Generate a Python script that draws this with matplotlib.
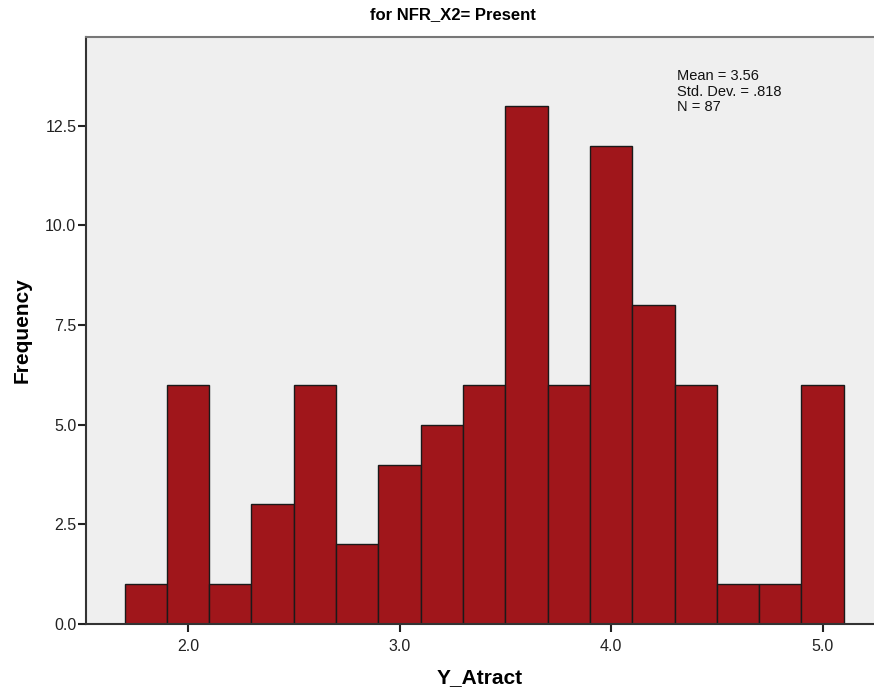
import numpy as np
import matplotlib
matplotlib.use("Agg")
import matplotlib.pyplot as plt

plt.rcParams['font.family'] = ['Liberation Sans', 'DejaVu Sans']

# histogram bins (width 0.2) and counts
bin_left = [1.7, 1.9, 2.1, 2.3, 2.5, 2.7, 2.9, 3.1, 3.3, 3.5, 3.7, 3.9, 4.1, 4.3, 4.5, 4.7, 4.9]
counts = [1, 6, 1, 3, 6, 2, 4, 5, 6, 13, 6, 12, 8, 6, 1, 1, 6]
bin_width = 0.2

y_ticks = [0.0, 2.5, 5.0, 7.5, 10.0, 12.5]
x_ticks = [2.0, 3.0, 4.0, 5.0]
stats_text = "Mean = 3.56\nStd. Dev. = .818\nN = 87"

fig = plt.figure(figsize=(8.74, 6.95), dpi=100)
ax = fig.add_axes([86/874, 71/695, 1 - 86/874, (624-37)/695])
ax.set_facecolor('#efefef')

ax.bar(bin_left, counts, width=bin_width, align='edge',
       color='#a0161b', edgecolor='#1a1a1a', linewidth=1.0)

ax.set_xlim(1.518, 5.243)
ax.set_ylim(0, 14.73)
ax.set_xticks(x_ticks)
ax.set_xticklabels([f"{v:.1f}" for v in x_ticks])
ax.set_yticks(y_ticks)
ax.set_yticklabels([f"{v:.1f}" for v in y_ticks])
ax.tick_params(axis='both', labelsize=11.5, colors='#222222', length=6, width=1.5)
ax.tick_params(axis='x', pad=5)
ax.tick_params(axis='y', pad=1)

for side in ['left', 'bottom']:
    ax.spines[side].set_color('#333333')
    ax.spines[side].set_linewidth(1.5)
ax.spines['top'].set_color('#777777')
ax.spines['top'].set_linewidth(1.5)
ax.spines['right'].set_visible(False)

ax.set_xlabel("Y_Atract", fontsize=15, fontweight='bold', labelpad=10)
ax.set_ylabel("Frequency", fontsize=15, fontweight='bold', labelpad=10)
fig.text(453/874, 1 - 15/695, "for NFR_X2= Present", ha='center', va='center',
         fontsize=12, fontweight='bold')

ax.text(4.312, 13.92, stats_text, fontsize=10.5, va='top', ha='left',
        color='#111111', linespacing=1.12)

fig.savefig("out.png", dpi=100)
